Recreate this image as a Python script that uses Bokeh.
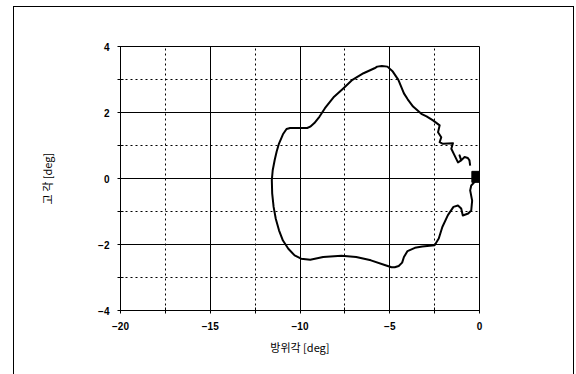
from bokeh.plotting import figure
from bokeh.models import FixedTicker, Range1d, ColumnDataSource
from bokeh.embed import file_html
from bokeh.resources import INLINE

# Beam contour: azimuth (deg) vs elevation (deg)
azimuth = [-0.52, -0.56, -0.65, -0.83, -1.02, -1.11, -1.02, -1.20, -1.39, -1.57, -1.48,
           -2.04, -2.22, -2.13, -2.31, -2.22, -2.59, -2.95, -3.24, -3.70, -4.00, -4.21,
           -4.52, -4.83, -5.13, -5.44, -5.70, -5.85, -6.46, -7.08, -7.59, -8.10, -8.61,
           -8.92, -9.20, -9.43, -9.60, -9.94, -10.55, -10.75, -10.95, -11.17, -11.30,
           -11.41, -11.52, -11.57, -11.55, -11.47, -11.35, -11.17, -10.95, -10.65, -10.30,
           -9.94, -9.43, -8.71, -7.69, -6.87, -6.05, -5.24, -4.90, -4.72, -4.50, -4.31,
           -4.21, -4.01, -3.60, -3.19, -2.50, -2.27, -2.07, -1.76, -1.45, -1.20, -1.02,
           -0.93, -0.63, -0.46, -0.41, -0.52, -0.46, -0.28, -0.10]
elevation = [0.39, 0.55, 0.62, 0.65, 0.55, 0.70, 0.55, 0.49, 0.70, 0.90, 1.07,
             1.05, 1.10, 1.25, 1.40, 1.61, 1.76, 1.88, 1.96, 2.18, 2.40, 2.58,
             2.99, 3.24, 3.39, 3.41, 3.39, 3.34, 3.19, 2.99, 2.73, 2.48, 2.13,
             1.87, 1.68, 1.57, 1.53, 1.53, 1.53, 1.50, 1.34, 1.06, 0.82,
             0.56, 0.25, -0.05, -0.45, -0.86, -1.22, -1.57, -1.88, -2.13, -2.33,
             -2.43, -2.46, -2.38, -2.34, -2.38, -2.48, -2.63, -2.69, -2.69, -2.65, -2.55,
             -2.38, -2.20, -2.10, -2.06, -2.02, -1.82, -1.47, -1.11, -0.86, -0.82, -0.91,
             -1.12, -1.06, -0.97, -0.67, -0.36, -0.21, -0.11, 0.0]
marker_x = [-0.12]
marker_y = [0.05]

x_major_ticks = [-20, -15, -10, -5, 0]
x_minor_ticks = [-17.5, -12.5, -7.5, -2.5]
y_major_ticks = [-4, -2, 0, 2, 4]
y_minor_ticks = [-3, -1, 1, 3]

p = figure(width=561, height=368, output_backend="svg", toolbar_location=None,
           x_range=Range1d(-20, 0), y_range=Range1d(-4, 4),
           min_border_left=106, min_border_right=96, min_border_top=39, min_border_bottom=65,
           x_axis_label="방위각 [deg]", y_axis_label="고 각 [deg]")
p.margin = (6, 0, 0, 13)
p.styles = {"border-left": "1px solid black", "border-top": "1px solid black",
            "border-right": "1px solid black"}

p.outline_line_color = "black"
p.outline_line_width = 1

for ax, major, minor in ((p.xaxis[0], x_major_ticks, x_minor_ticks),
                         (p.yaxis[0], y_major_ticks, y_minor_ticks)):
    ax.ticker = FixedTicker(ticks=major, minor_ticks=minor)
    ax.axis_line_color = "black"
    ax.major_tick_line_color = "black"
    ax.minor_tick_line_color = "black"
    ax.major_tick_in = 3
    ax.major_tick_out = 3
    ax.minor_tick_in = 3
    ax.minor_tick_out = 3
    ax.major_label_text_font = "Liberation Sans"
    ax.major_label_text_font_style = "bold"
    ax.major_label_text_font_size = "10px"
    ax.major_label_text_color = "black"
    ax.axis_label_text_font = "Noto Sans CJK KR"
    ax.axis_label_text_font_style = "normal"
    ax.axis_label_text_font_size = "11px"
    ax.axis_label_text_color = "black"

p.xaxis.major_label_standoff = 8
p.xaxis.axis_label_standoff = 6
p.yaxis.major_label_standoff = 8
p.yaxis.axis_label_standoff = 40

for g in (p.xgrid[0], p.ygrid[0]):
    g.grid_line_color = "black"
    g.grid_line_width = 1
    g.minor_grid_line_color = "black"
    g.minor_grid_line_dash = "2 3"
    g.minor_grid_line_width = 1

src = ColumnDataSource(dict(x=azimuth, y=elevation))
p.line("x", "y", source=src, line_color="black", line_width=2, line_join="round")
p.scatter(marker_x, marker_y, marker="square", size=11, color="black")

open("out.html", "w").write(file_html(p, INLINE))
